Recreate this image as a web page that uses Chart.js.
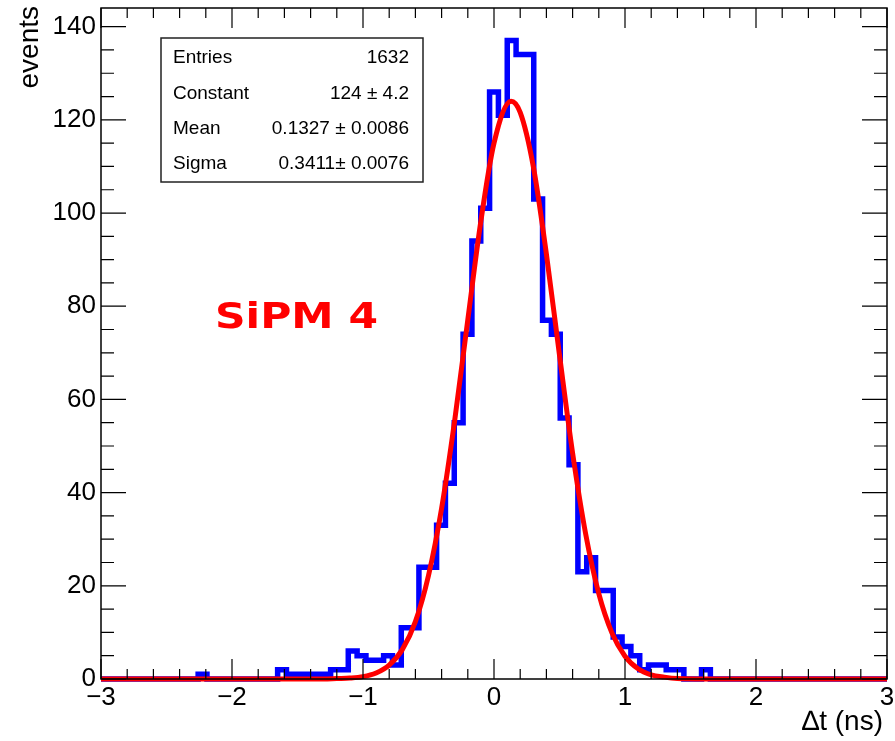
<!DOCTYPE html>
<html lang="en">
<head>
  <meta charset="UTF-8">
  <title>SiPM 4 - time difference</title>
  <script src="https://cdn.jsdelivr.net/npm/chart.js@4.4.0/dist/chart.umd.min.js"></script>
  <style>
    html, body { margin: 0; padding: 0; background: #fff; }
    #wrap { width: 895px; height: 741px; }
  </style>
</head>
<body>
  <div id="wrap"><canvas id="myChart" width="895" height="741"></canvas></div>
  <script>
    // histogram range and bin contents (89 bins from -3 to 3 ns)
    var binLow = -3;
    var binHigh = 3;
    var counts = [
      0, 0, 0, 0, 0, 0, 0, 0, 0, 0,
      0, 1, 0, 0, 0, 0, 0, 0, 0, 0,
      2, 1, 1, 1, 1, 1, 2, 2, 6, 5,
      4, 4, 5, 3, 11, 11, 24, 24, 33, 42,
      55, 74, 94, 101, 126, 121, 137, 134, 134, 103,
      77, 74, 56, 46, 23, 26, 19, 19, 9, 7,
      5, 2, 3, 3, 2, 2, 0, 0, 2, 0,
      0, 0, 0, 0, 0, 0, 0, 0, 0, 0,
      0, 0, 0, 0, 0, 0, 0, 0, 0
    ];

    // gaussian fit curve
    var fitX = [-3, -1.5, -1.3, -1.2, -1.1, -1.0, -0.9, -0.8, -0.7, -0.6, -0.5, -0.4, -0.3, -0.2, -0.1, 0,
                0.13, 0.2, 0.3, 0.4, 0.5, 0.6, 0.7, 0.8, 0.9, 1.0, 1.1, 1.2, 1.3, 1.4, 1.6, 3];
    var fitY = [0, 0, 0, 0.1, 0.2, 0.5, 1.3, 3, 6.3, 12.3, 22.2, 36.6, 55.5, 77.1, 98.3, 115,
                124, 121.6, 110, 91.2, 69.5, 48.5, 31.1, 18.3, 9.9, 4.9, 2.2, 0.9, 0.4, 0.1, 0, 0];

    var yMax = 144;
    var statNames = ['Entries', 'Constant', 'Mean', 'Sigma'];
    var statValues = ['1632', '124 \u00b1 4.2', '0.1327 \u00b1 0.0086', '0.3411\u00b1 0.0076'];
    var xTitle = '\u2206t (ns)';
    var yTitle = 'events';
    var label = 'SiPM 4';

    var histPts = [];
    var w = (binHigh - binLow) / counts.length;
    for (var k = 0; k < counts.length; k++) {
      histPts.push({ x: binLow + k * w, y: counts[k] });
    }
    histPts.push({ x: binHigh, y: counts[counts.length - 1] });

    var fitPts = [];
    for (var i = 0; i < fitX.length; i++) fitPts.push({ x: fitX[i], y: fitY[i] });

    var helv = 'Liberation Sans, Arial, Helvetica, sans-serif';

    // ROOT-like frame, inward ticks, titles, stats box
    var rootStyle = {
      id: 'rootStyle',
      afterDraw: function(chart) {
        var ctx = chart.ctx, a = chart.chartArea;
        var sx = chart.scales.x, sy = chart.scales.y;
        ctx.save();
        ctx.strokeStyle = '#000';
        ctx.lineWidth = 1.5;
        ctx.strokeRect(a.left, a.top, a.right - a.left, a.bottom - a.top);

        ctx.lineWidth = 1.2;
        ctx.beginPath();
        for (var n = 0; n <= 30; n++) {
          var v = binLow + n * 0.2;
          var px = sx.getPixelForValue(v);
          var len = (n % 5 == 0) ? 20 : 10;
          ctx.moveTo(px, a.bottom); ctx.lineTo(px, a.bottom - len);
          ctx.moveTo(px, a.top); ctx.lineTo(px, a.top + len);
        }
        for (var m = 0; m <= 28; m++) {
          var py = sy.getPixelForValue(m * 5);
          var ylen = (m % 4 == 0) ? 25 : 13;
          ctx.moveTo(a.left, py); ctx.lineTo(a.left + ylen, py);
          ctx.moveTo(a.right, py); ctx.lineTo(a.right - ylen, py);
        }
        ctx.stroke();

        // axis titles
        ctx.fillStyle = '#000';
        ctx.font = '28px ' + helv;
        ctx.textAlign = 'right';
        ctx.textBaseline = 'alphabetic';
        ctx.fillText(xTitle, a.right - 4, 730);
        ctx.save();
        ctx.translate(38, a.top - 2);
        ctx.rotate(-Math.PI / 2);
        ctx.fillText(yTitle, 0, 0);
        ctx.restore();

        // stats box
        ctx.fillStyle = '#fff';
        ctx.fillRect(161, 38, 262, 144);
        ctx.lineWidth = 1.5;
        ctx.strokeStyle = '#222';
        ctx.strokeRect(161, 38, 262, 144);
        ctx.fillStyle = '#000';
        ctx.font = '19px ' + helv;
        var rows = [63, 99, 134, 169];
        for (var r = 0; r < statNames.length; r++) {
          ctx.textAlign = 'left';
          ctx.fillText(statNames[r], 173, rows[r]);
          ctx.textAlign = 'right';
          ctx.fillText(statValues[r], 409, rows[r]);
        }

        // SiPM label
        ctx.fillStyle = '#ff0000';
        ctx.font = 'bold 36px DejaVu Sans, sans-serif';
        ctx.textAlign = 'left';
        var tw = ctx.measureText(label).width;
        ctx.save();
        ctx.translate(215, 328);
        ctx.scale(163 / tw, 1);
        ctx.fillText(label, 0, 0);
        ctx.restore();
        ctx.restore();
      }
    };

    var ctx = document.getElementById('myChart').getContext('2d');
    var chart = new Chart(ctx, {
      type: 'line',
      data: {
        datasets: [{
          label: 'fit',
          data: fitPts,
          borderColor: '#ff0000',
          borderWidth: 5,
          pointRadius: 0,
          fill: false,
          cubicInterpolationMode: 'monotone',
          clip: 8,
          order: 0
        }, {
          label: 'histogram',
          data: histPts,
          borderColor: '#0000ff',
          borderWidth: 5.5,
          pointRadius: 0,
          fill: false,
          stepped: true,
          borderJoinStyle: 'miter',
          borderCapStyle: 'butt',
          clip: 8,
          order: 1
        }]
      },
      options: {
        responsive: false,
        animation: false,
        events: [],
        layout: { padding: { top: 8, right: 8, left: 0, bottom: 0 } },
        plugins: { legend: { display: false }, tooltip: { enabled: false } },
        scales: {
          x: {
            type: 'linear',
            min: binLow,
            max: binHigh,
            afterFit: function(s) { s.height = 62; s.paddingLeft = 0; s.paddingRight = 0; },
            grid: { display: false, drawTicks: false },
            border: { display: false },
            ticks: {
              stepSize: 1,
              padding: 3,
              maxRotation: 0,
              autoSkip: false,
              color: '#000',
              font: { family: helv, size: 26 },
              callback: function(v) { return v < 0 ? '\u2212' + Math.abs(v) : '' + v; }
            }
          },
          y: {
            min: 0,
            max: yMax,
            afterFit: function(s) { s.width = 101; s.paddingTop = 0; s.paddingBottom = 0; },
            grid: { display: false, drawTicks: false },
            border: { display: false },
            ticks: {
              stepSize: 20,
              includeBounds: false,
              padding: 5,
              color: '#000',
              font: { family: helv, size: 26 }
            }
          }
        }
      },
      plugins: [rootStyle]
    });
  </script>
</body>
</html>
